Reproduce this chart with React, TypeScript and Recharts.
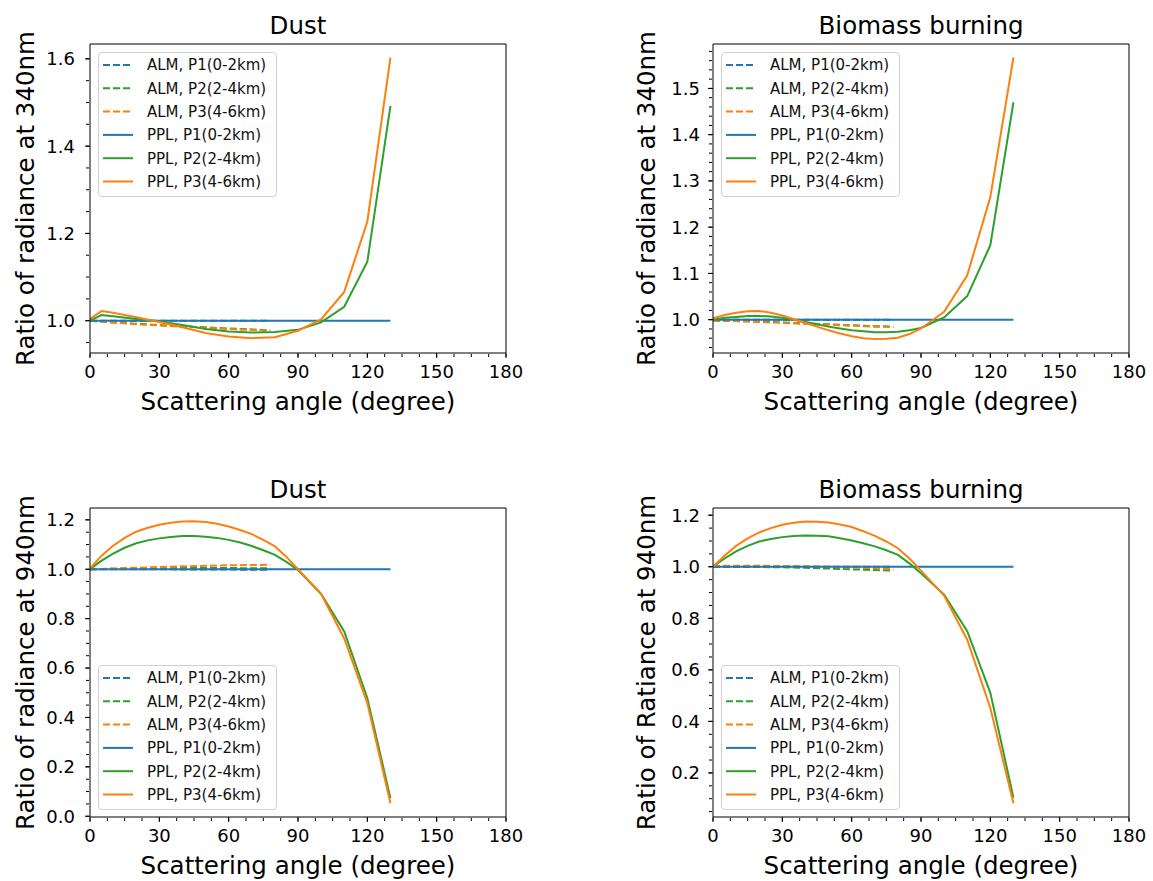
import React from 'react';
import { LineChart, Line, XAxis, YAxis } from 'recharts';

const FONT = '"DejaVu Sans", Verdana, sans-serif';
const BLUE = '#1f77b4';
const ORANGE = '#ff7f0e';
const GREEN = '#2ca02c';

// ---------- shared axis ticks ----------
const X_MAJOR = [0, 30, 60, 90, 120, 150, 180];

// ---------- series names ----------
const NAMES = [
  'ALM, P1(0-2km)',
  'ALM, P2(2-4km)',
  'ALM, P3(4-6km)',
  'PPL, P1(0-2km)',
  'PPL, P2(2-4km)',
  'PPL, P3(4-6km)',
];

// ---------- angles ----------
const ALM_ANGLE = [0, 10, 20, 30, 40, 50, 60, 70, 78];
const DUST340_PPL_ANGLE = [0, 5, 10, 20, 30, 40, 50, 60, 70, 80, 90, 100, 110, 120, 130];
const FINE_PPL_ANGLE = [0, 5, 10, 15, 20, 25, 30, 35, 40, 45, 50, 55, 60, 65, 70, 75, 80, 85, 90, 100, 110, 120, 130];

// ---------- Dust, 340nm ----------
const DUST340_ALM_P1 = [1.0, 1.0, 1.0, 1.0, 1.0, 1.0, 1.0, 1.0, 1.0];
const DUST340_ALM_P2 = [1.0, 0.996, 0.993, 0.99, 0.987, 0.985, 0.982, 0.98, 0.978];
const DUST340_ALM_P3 = [1.0, 0.996, 0.992, 0.989, 0.986, 0.984, 0.981, 0.979, 0.977];
const DUST340_PPL_P1 = [1.0, 1.0, 1.0, 1.0, 1.0, 1.0, 1.0, 1.0, 1.0, 1.0, 1.0, 1.0, 1.0, 1.0, 1.0];
const DUST340_PPL_P2 = [1.0, 1.013, 1.01, 1.004, 0.998, 0.99, 0.981, 0.975, 0.973, 0.974, 0.979, 0.996, 1.032, 1.135, 1.492];
const DUST340_PPL_P3 = [1.004, 1.022, 1.018, 1.008, 0.997, 0.985, 0.972, 0.964, 0.96, 0.962, 0.977, 1.003, 1.066, 1.227, 1.603];

// ---------- Biomass burning, 340nm ----------
const BIO340_ALM_P1 = [1.0, 1.0, 1.0, 1.0, 1.0, 1.0, 1.0, 1.0, 1.0];
const BIO340_ALM_P2 = [0.998, 0.997, 0.996, 0.994, 0.992, 0.99, 0.988, 0.986, 0.985];
const BIO340_ALM_P3 = [0.998, 0.997, 0.995, 0.993, 0.991, 0.989, 0.987, 0.985, 0.984];
const BIO340_PPL_P1 = [1.0, 1.0, 1.0, 1.0, 1.0, 1.0, 1.0, 1.0, 1.0, 1.0, 1.0, 1.0, 1.0, 1.0, 1.0, 1.0, 1.0, 1.0, 1.0, 1.0, 1.0, 1.0, 1.0];
const BIO340_PPL_P2 = [1.0, 1.004, 1.006, 1.008, 1.008, 1.007, 1.004, 1.0, 0.995, 0.99, 0.985, 0.981, 0.977, 0.975, 0.973, 0.973, 0.974, 0.977, 0.982, 1.005, 1.051, 1.161, 1.47];
const BIO340_PPL_P3 = [1.003, 1.01, 1.015, 1.018, 1.019, 1.015, 1.009, 1.001, 0.993, 0.985, 0.977, 0.97, 0.964, 0.96, 0.958, 0.959, 0.961, 0.969, 0.981, 1.017, 1.096, 1.265, 1.567];

// ---------- Dust, 940nm ----------
const DUST940_ALM_P1 = [1.0, 1.0, 1.0, 1.0, 0.999, 0.999, 0.999, 0.998, 0.998];
const DUST940_ALM_P2 = [1.0, 1.002, 1.003, 1.004, 1.005, 1.005, 1.005, 1.004, 1.004];
const DUST940_ALM_P3 = [1.0, 1.003, 1.006, 1.009, 1.012, 1.014, 1.016, 1.017, 1.018];
const DUST940_PPL_P1 = [1.0, 1.0, 1.0, 1.0, 1.0, 1.0, 1.0, 1.0, 1.0, 1.0, 1.0, 1.0, 1.0, 1.0, 1.0, 1.0, 1.0, 1.0, 1.0, 1.0, 1.0, 1.0, 1.0];
const DUST940_PPL_P2 = [1.0, 1.035, 1.063, 1.087, 1.105, 1.117, 1.125, 1.131, 1.135, 1.135, 1.132, 1.127, 1.119, 1.108, 1.094, 1.077, 1.058, 1.03, 0.997, 0.9, 0.748, 0.478, 0.073];
const DUST940_PPL_P3 = [1.003, 1.055, 1.095, 1.127, 1.152, 1.168, 1.18, 1.188, 1.193, 1.194, 1.191, 1.184, 1.173, 1.159, 1.142, 1.119, 1.093, 1.05, 1.0, 0.9, 0.72, 0.458, 0.053];

// ---------- Biomass burning, 940nm ----------
const BIO940_ALM_P1 = [1.0, 1.0, 1.0, 1.0, 1.0, 1.0, 1.0, 1.0, 1.0];
const BIO940_ALM_P2 = [1.0, 1.0, 0.999, 0.998, 0.996, 0.993, 0.99, 0.987, 0.985];
const BIO940_ALM_P3 = [1.003, 1.004, 1.004, 1.003, 1.002, 1.0, 0.997, 0.994, 0.991];
const BIO940_PPL_P1 = [1.0, 1.0, 1.0, 1.0, 1.0, 1.0, 1.0, 1.0, 1.0, 1.0, 1.0, 1.0, 1.0, 1.0, 1.0, 1.0, 1.0, 1.0, 1.0, 1.0, 1.0, 1.0, 1.0];
const BIO940_PPL_P2 = [1.0, 1.032, 1.06, 1.081, 1.098, 1.108, 1.115, 1.119, 1.121, 1.12, 1.118, 1.111, 1.102, 1.091, 1.079, 1.064, 1.046, 1.013, 0.975, 0.892, 0.75, 0.511, 0.104];
const BIO940_PPL_P3 = [1.0, 1.043, 1.081, 1.11, 1.133, 1.15, 1.163, 1.171, 1.176, 1.175, 1.172, 1.164, 1.154, 1.138, 1.12, 1.098, 1.072, 1.032, 0.985, 0.888, 0.717, 0.452, 0.082];

// ---------- y ticks ----------
const DUST340_Y_TICKS = [1.0, 1.2, 1.4, 1.6];
const BIO340_Y_TICKS = [1.0, 1.1, 1.2, 1.3, 1.4, 1.5];
const DUST940_Y_TICKS = [0.0, 0.2, 0.4, 0.6, 0.8, 1.0, 1.2];
const BIO940_Y_TICKS = [0.2, 0.4, 0.6, 0.8, 1.0, 1.2];

// minor tick positions (axis decoration only)
function seq(start: number, stop: number, step: number): number[] {
  const n = Math.round((stop - start) / step);
  return Array.from({ length: n + 1 }, (_, i) => +(start + i * step).toFixed(4));
}
const X_MINOR = seq(0, 180, 7.5);

type SeriesDef = { name: string; color: string; dashed: boolean; xs: number[]; ys: number[] };

function makeSeries(almX: number[], pplX: number[], a1: number[], a2: number[], a3: number[], p1: number[], p2: number[], p3: number[]): SeriesDef[] {
  return [
    { name: NAMES[0], color: BLUE, dashed: true, xs: almX, ys: a1 },
    { name: NAMES[1], color: GREEN, dashed: true, xs: almX, ys: a2 },
    { name: NAMES[2], color: ORANGE, dashed: true, xs: almX, ys: a3 },
    { name: NAMES[3], color: BLUE, dashed: false, xs: pplX, ys: p1 },
    { name: NAMES[4], color: GREEN, dashed: false, xs: pplX, ys: p2 },
    { name: NAMES[5], color: ORANGE, dashed: false, xs: pplX, ys: p3 },
  ];
}

type Box = { top: number; right: number; bottom: number; left: number };

type PanelDef = {
  title: string;
  yLabel: string;
  yDomain: [number, number];
  yMajor: number[];
  yMinor: number[];
  left: number;
  top: number;
  width: number;
  height: number;
  plot: Box; // desired plot-area insets
  legendAt: 'top' | 'bottom';
  titleY: number;
  xLabelY: number;
  yLabelOffset: number;
  yTickMargin: number;
  series: SeriesDef[];
};

const PANELS: PanelDef[] = [
  {
    title: 'Dust',
    yLabel: 'Ratio of radiance at 340nm',
    yDomain: [0.926, 1.634],
    yMajor: DUST340_Y_TICKS,
    yMinor: seq(0.95, 1.6, 0.05),
    left: 0, top: 0, width: 576, height: 440,
    plot: { top: 44, right: 70, bottom: 87, left: 90 },
    legendAt: 'top', titleY: 34, xLabelY: 410, yLabelOffset: 56, yTickMargin: 10,
    series: makeSeries(ALM_ANGLE, DUST340_PPL_ANGLE, DUST340_ALM_P1, DUST340_ALM_P2, DUST340_ALM_P3, DUST340_PPL_P1, DUST340_PPL_P2, DUST340_PPL_P3),
  },
  {
    title: 'Biomass burning',
    yLabel: 'Ratio of radiance at 340nm',
    yDomain: [0.928, 1.596],
    yMajor: BIO340_Y_TICKS,
    yMinor: seq(0.94, 1.58, 0.02),
    left: 576, top: 0, width: 577, height: 440,
    plot: { top: 44, right: 24, bottom: 87, left: 137 },
    legendAt: 'top', titleY: 34, xLabelY: 410, yLabelOffset: 58, yTickMargin: 8,
    series: makeSeries(ALM_ANGLE, FINE_PPL_ANGLE, BIO340_ALM_P1, BIO340_ALM_P2, BIO340_ALM_P3, BIO340_PPL_P1, BIO340_PPL_P2, BIO340_PPL_P3),
  },
  {
    title: 'Dust',
    yLabel: 'Ratio of radiance at 940nm',
    yDomain: [-0.003, 1.248],
    yMajor: DUST940_Y_TICKS,
    yMinor: seq(0, 1.2, 0.05),
    left: 0, top: 440, width: 576, height: 441,
    plot: { top: 68, right: 70, bottom: 64, left: 90 },
    legendAt: 'bottom', titleY: 58, xLabelY: 434, yLabelOffset: 56, yTickMargin: 10,
    series: makeSeries(ALM_ANGLE, FINE_PPL_ANGLE, DUST940_ALM_P1, DUST940_ALM_P2, DUST940_ALM_P3, DUST940_PPL_P1, DUST940_PPL_P2, DUST940_PPL_P3),
  },
  {
    title: 'Biomass burning',
    yLabel: 'Ratio of Ratiance at 940nm',
    yDomain: [0.029, 1.228],
    yMajor: BIO940_Y_TICKS,
    yMinor: seq(0.05, 1.2, 0.05),
    left: 576, top: 440, width: 577, height: 441,
    plot: { top: 68, right: 24, bottom: 64, left: 137 },
    legendAt: 'bottom', titleY: 58, xLabelY: 434, yLabelOffset: 58, yTickMargin: 8,
    series: makeSeries(ALM_ANGLE, FINE_PPL_ANGLE, BIO940_ALM_P1, BIO940_ALM_P2, BIO940_ALM_P3, BIO940_PPL_P1, BIO940_PPL_P2, BIO940_PPL_P3),
  },
];

function pts(xs: number[], ys: number[]) {
  return xs.map((x, i) => ({ x, y: ys[i] }));
}

const LEG_W = 179;
const LEG_H = 145;

function LegendBox({ series, left, top }: { series: SeriesDef[]; left: number; top: number }) {
  return (
    <div
      style={{
        position: 'absolute',
        left,
        top,
        width: LEG_W,
        height: LEG_H,
        boxSizing: 'border-box',
        border: '1px solid #d0d0d0',
        borderRadius: 4,
        background: 'rgba(255,255,255,0.8)',
      }}
    >
      <svg width={LEG_W - 2} height={LEG_H - 2} style={{ position: 'absolute', left: 0, top: 0 }}>
        {series.map((s, i) => {
          const cy = 12 + i * 23.3;
          return (
            <g key={s.name}>
              <line x1={4} x2={34} y1={cy} y2={cy} stroke={s.color} strokeWidth={2} strokeDasharray={s.dashed ? '7 3' : undefined} />
              <text x={48} y={cy + 5.3} fontSize={15} fontFamily={FONT} fill="#111">
                {s.name}
              </text>
            </g>
          );
        })}
      </svg>
    </div>
  );
}

const NoLabel = () => <g />;

function Panel({ p }: { p: PanelDef }) {
  const plotW = p.width - p.plot.left - p.plot.right;
  const plotH = p.height - p.plot.top - p.plot.bottom;
  const cx = p.plot.left + plotW / 2;
  const cy = p.plot.top + plotH / 2;
  // each helper axis occupies 1px: bottom 2, left 2, top 1, right 1
  const margin = {
    top: p.plot.top - 1,
    right: p.plot.right - 1,
    bottom: p.plot.bottom - 2,
    left: p.plot.left - 2,
  };
  const legendTop = p.legendAt === 'top' ? p.plot.top + 8 : p.plot.top + plotH - 7 - LEG_H;
  const axisStroke = { stroke: '#000', strokeWidth: 1 };
  const tickFont = { fill: '#000', fontSize: 18, fontFamily: FONT };
  return (
    <div style={{ position: 'absolute', left: p.left, top: p.top, width: p.width, height: p.height }}>
      <LineChart width={p.width} height={p.height} margin={margin}>
        <XAxis xAxisId="main" type="number" dataKey="x" domain={[0, 180]} allowDataOverflow ticks={X_MAJOR} interval={0}
          tickSize={5} tickMargin={7} axisLine={axisStroke} tickLine={axisStroke} tick={tickFont} height={1} />
        <XAxis xAxisId="minor" type="number" dataKey="x" domain={[0, 180]} allowDataOverflow ticks={X_MINOR} interval={0}
          tick={NoLabel} tickSize={3} axisLine={false} tickLine={axisStroke} height={1} />
        <XAxis xAxisId="top" orientation="top" type="number" dataKey="x" domain={[0, 180]} allowDataOverflow
          tick={false} tickLine={false} axisLine={axisStroke} height={1} />
        <YAxis yAxisId="main" type="number" dataKey="y" domain={p.yDomain} allowDataOverflow ticks={p.yMajor} interval={0}
          tickSize={5} tickMargin={p.yTickMargin} axisLine={axisStroke} tickLine={axisStroke} tick={tickFont} width={1}
          tickFormatter={(v: number) => v.toFixed(1)} />
        <YAxis yAxisId="minor" type="number" domain={p.yDomain} allowDataOverflow ticks={p.yMinor} interval={0}
          tick={NoLabel} tickSize={3} axisLine={false} tickLine={axisStroke} width={1} />
        <YAxis yAxisId="right" orientation="right" type="number" domain={p.yDomain} allowDataOverflow
          tick={false} tickLine={false} axisLine={axisStroke} width={1} />
        {p.series.map((s) => (
          <Line
            key={s.name}
            name={s.name}
            data={pts(s.xs, s.ys)}
            xAxisId="main"
            yAxisId="main"
            dataKey="y"
            type="linear"
            stroke={s.color}
            strokeWidth={2}
            strokeDasharray={s.dashed ? '7 3' : undefined}
            dot={false}
            activeDot={false}
            isAnimationActive={false}
          />
        ))}
      </LineChart>
      <LegendBox series={p.series} left={p.plot.left + 8} top={legendTop} />
      <svg width={p.width} height={p.height} style={{ position: 'absolute', left: 0, top: 0, pointerEvents: 'none' }}>
        <text x={cx} y={p.titleY} textAnchor="middle" fontSize={24.5} fontFamily={FONT} fill="#000">
          {p.title}
        </text>
        <text x={cx} y={p.xLabelY} textAnchor="middle" fontSize={24.5} fontFamily={FONT} fill="#000">
          Scattering angle (degree)
        </text>
        <text
          x={p.plot.left - p.yLabelOffset}
          y={cy}
          textAnchor="middle"
          fontSize={24.5}
          fontFamily={FONT}
          fill="#000"
          transform={`rotate(-90, ${p.plot.left - p.yLabelOffset}, ${cy})`}
        >
          {p.yLabel}
        </text>
      </svg>
    </div>
  );
}

export default function App() {
  return (
    <div style={{ position: 'absolute', left: 0, top: 0, width: 1153, height: 881, background: '#fff', overflow: 'hidden' }}>
      {PANELS.map((p, i) => (
        <Panel key={i} p={p} />
      ))}
    </div>
  );
}
